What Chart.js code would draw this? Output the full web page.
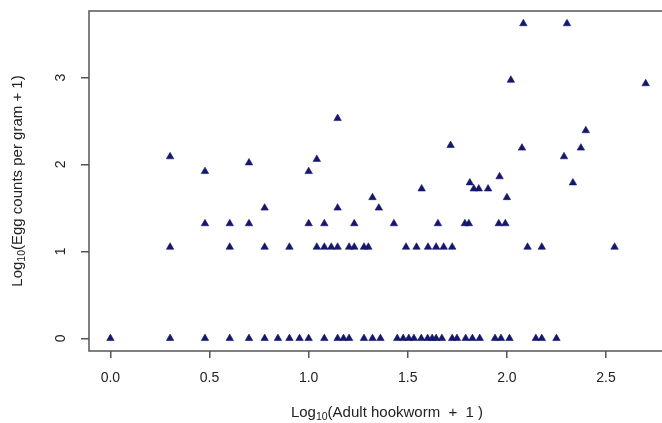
<!DOCTYPE html>
<html>
<head>
<meta charset="utf-8">
<script src="https://cdn.jsdelivr.net/npm/chart.js@4.4.1/dist/chart.umd.min.js"></script>
<style>
  html, body { margin: 0; padding: 0; background: #fff; overflow: hidden; }
  #wrap { width: 672px; height: 423px; }
</style>
</head>
<body>
<div id="wrap"><canvas id="myChart" width="672" height="423"></canvas></div>
<script>
// log10(adult hookworm + 1) and log10(egg counts per gram + 1), grouped by egg level
var hookwormLog = [
  // egg = 0
  0, 0.301, 0.477, 0.602, 0.699, 0.778, 0.845, 0.903, 0.954, 1.0, 1.079, 1.146, 1.176,
  1.204, 1.279, 1.322, 1.362, 1.447, 1.477, 1.505, 1.531, 1.568, 1.6, 1.623, 1.643,
  1.672, 1.724, 1.748, 1.792, 1.826, 1.863, 1.94, 1.97, 2.013, 2.146, 2.176, 2.25,
  // egg ~ 1.05
  0.301, 0.602, 0.778, 0.903, 1.041, 1.079, 1.114, 1.146, 1.204, 1.23, 1.279, 1.301,
  1.491, 1.544, 1.602, 1.643, 1.681, 1.724, 2.104, 2.176, 2.543,
  // egg ~ 1.32
  0.477, 0.602, 0.699, 1.0, 1.079, 1.23, 1.43, 1.652, 1.788, 1.808, 1.959, 1.992,
  // higher
  0.778, 1.146, 1.354,
  1.322, 2.0,
  1.57, 1.833, 1.858, 1.905,
  1.813, 2.333,
  1.963,
  0.477, 1.0,
  0.699,
  1.041,
  0.301, 2.288,
  2.076, 2.373,
  1.716,
  2.398,
  1.146,
  2.70,
  2.02,
  2.083, 2.303
];
var eggLog = [
  0, 0, 0, 0, 0, 0, 0, 0, 0, 0, 0, 0, 0,
  0, 0, 0, 0, 0, 0, 0, 0, 0, 0, 0, 0,
  0, 0, 0, 0, 0, 0, 0, 0, 0, 0, 0, 0,
  1.05, 1.05, 1.05, 1.05, 1.05, 1.05, 1.05, 1.05, 1.05, 1.05, 1.05, 1.05,
  1.05, 1.05, 1.05, 1.05, 1.05, 1.05, 1.05, 1.05, 1.05,
  1.32, 1.32, 1.32, 1.32, 1.32, 1.32, 1.32, 1.32, 1.32, 1.32, 1.32, 1.32,
  1.50, 1.50, 1.50,
  1.62, 1.62,
  1.72, 1.72, 1.72, 1.72,
  1.79, 1.79,
  1.86,
  1.92, 1.92,
  2.02,
  2.06,
  2.09, 2.09,
  2.19, 2.19,
  2.22,
  2.39,
  2.53,
  2.93,
  2.97,
  3.62, 3.62
];
var xTicks = [0, 0.5, 1.0, 1.5, 2.0, 2.5];
var xTickLabels = ["0.0", "0.5", "1.0", "1.5", "2.0", "2.5"];
var yTicks = [0, 1, 2, 3];
var yTickLabels = ["0", "1", "2", "3"];

var points = hookwormLog.map(function (x, i) {
  return { x: x, y: eggLog[i] };
});

var FONT = "Liberation Sans, Arial, sans-serif";

// text with a "10" subscript after "Log"
function drawLogTitle(ctx, rest, cx, cy) {
  ctx.font = "15px " + FONT;
  var w1 = ctx.measureText("Log").width;
  var w3 = ctx.measureText(rest).width;
  ctx.font = "10.5px " + FONT;
  var w2 = ctx.measureText("10").width;
  var x = cx - (w1 + w2 + w3) / 2;
  ctx.textBaseline = "middle";
  ctx.textAlign = "left";
  ctx.font = "15px " + FONT;
  ctx.fillText("Log", x, cy);
  ctx.font = "10.5px " + FONT;
  ctx.fillText("10", x + w1, cy + 4);
  ctx.font = "15px " + FONT;
  ctx.fillText(rest, x + w1 + w2, cy);
}

const framePlugin = {
  id: "frame",
  afterDraw: function (chart) {
    const ctx = chart.ctx;
    const a = chart.chartArea;
    ctx.save();
    ctx.strokeStyle = "#555";
    ctx.lineWidth = 1.5;
    ctx.strokeRect(a.left, a.top, a.right - a.left, a.bottom - a.top);

    ctx.fillStyle = "#222";
    drawLogTitle(ctx, "(Adult hookworm  +  1 )", 387, 413);
    ctx.translate(18, 181);
    ctx.rotate(-Math.PI / 2);
    drawLogTitle(ctx, "(Egg counts per gram + 1)", 0, 0);
    ctx.restore();
  },
};

const ctx = document.getElementById("myChart").getContext("2d");

const myChart = new Chart(ctx, {
  type: "scatter",
  data: {
    datasets: [
      {
        data: points,
        pointStyle: "triangle",
        pointRadius: 4.3,
        pointBackgroundColor: "#16166c",
        pointBorderColor: "#16166c",
        pointBorderWidth: 0.6,
      },
    ],
  },
  options: {
    responsive: false,
    animation: false,
    layout: { padding: { top: 11, right: 4, left: 0, bottom: 0 } },
    plugins: {
      legend: { display: false },
      tooltip: { enabled: false },
    },
    scales: {
      x: {
        type: "linear",
        min: -0.108,
        max: 2.808,
        afterBuildTicks: function (s) {
          s.ticks = xTicks.map(function (v) { return { value: v }; });
        },
        afterFit: function (s) {
          s.height = 72;
          s.paddingLeft = 0;
          s.paddingRight = 0;
        },
        ticks: {
          callback: function (v) { return xTickLabels[xTicks.indexOf(v)]; },
          autoSkip: false,
          maxRotation: 0,
          padding: 12,
          color: "#222",
          font: { family: FONT, size: 14 },
        },
        grid: { drawOnChartArea: false, tickLength: 7, color: "#555", lineWidth: 1.5 },
        border: { display: false },
      },
      y: {
        type: "linear",
        min: -0.145,
        max: 3.765,
        afterBuildTicks: function (s) {
          s.ticks = yTicks.map(function (v) { return { value: v }; });
        },
        afterFit: function (s) {
          s.width = 89;
          s.paddingTop = 0;
          s.paddingBottom = 0;
        },
        ticks: {
          callback: function (v) { return yTickLabels[yTicks.indexOf(v)]; },
          autoSkip: false,
          minRotation: 90,
          maxRotation: 90,
          crossAlign: "center",
          padding: 16,
          color: "#222",
          font: { family: FONT, size: 14 },
        },
        grid: { drawOnChartArea: false, tickLength: 8, color: "#555", lineWidth: 1.5 },
        border: { display: false },
      },
    },
  },
  plugins: [framePlugin],
});
</script>
</body>
</html>
